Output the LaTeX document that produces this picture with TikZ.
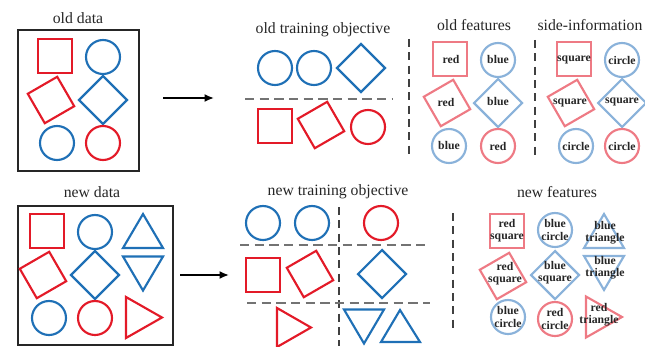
\documentclass[tikz,border=0pt]{standalone}
\usepackage{fontspec}
\setmainfont{Liberation Serif}
\usetikzlibrary{arrows.meta}
\definecolor{cred}{RGB}{227,26,40}
\definecolor{cblue}{RGB}{31,112,182}
\definecolor{lred}{RGB}{238,122,132}
\definecolor{lblue}{RGB}{138,178,218}
\newcommand\Sqr[4]{\draw[#1,shift={(#2,#3)},rotate=#4] (-17,-17) rectangle (17,17);}
\newcommand\Dia[3]{\draw[#1,shift={(#2,#3)}] (-24,0)--(0,-24)--(24,0)--(0,24)--cycle;}
\newcommand\Cir[3]{\draw[#1] (#2,#3) circle[radius=17];}
\newcommand\TriU[3]{\draw[#1,shift={(#2,#3)}] (0,-17)--(20,17)--(-20,17)--cycle;}
\newcommand\TriD[3]{\draw[#1,shift={(#2,#3)}] (-20,-17)--(20,-17)--(0,17)--cycle;}
\newcommand\TriR[3]{\draw[#1,shift={(#2,#3)}] (-18,-20.5)--(18,0)--(-18,20.5)--cycle;}
\begin{document}
\begin{tikzpicture}[x=0.75pt,y=-0.75pt,
  R/.style={draw=cred,line width=1.6pt},
  B/.style={draw=cblue,line width=1.6pt},
  LR/.style={draw=lred,line width=1.6pt},
  LB/.style={draw=lblue,line width=1.6pt},
  title/.style={font=\fontsize{11.8}{14}\selectfont,text=black!85},
  feat/.style={font=\fontsize{8.8}{9.2}\selectfont\bfseries,text=black!85,align=center,inner sep=0pt},
  frame/.style={draw=black!85,line width=0.8pt},
  sep/.style={draw=black!75,line width=0.8pt,dash pattern=on 6pt off 4pt},
  hsep/.style={draw=black!55,line width=0.8pt,dash pattern=on 7pt off 4pt},
  flow/.style={draw=black,line width=1.4pt,-{Latex[length=7pt,width=6pt]}}]
\useasboundingbox (0,0) rectangle (645,346);
% ---------------- old data ----------------
\node[title] (tod) at (78,18) {old data};
\draw[frame] (18,30) rectangle (139,171);
\Sqr{R}{55}{56}{0}
\Cir{B}{103}{57}
\Sqr{R}{51}{100}{30}
\Dia{B}{103}{100}
\Cir{B}{57}{143}
\Cir{R}{103}{143}
\coordinate (a1s) at (163,98);
\coordinate (a1e) at (214,98);
\draw[flow] (a1s) -- (a1e);
% old training objective
\node[title] (tot) at (323,30) {old training objective};
\Cir{B}{275}{68}
\Cir{B}{314}{68}
\Dia{B}{361}{68}
\coordinate (h0a) at (245,99);
\coordinate (h0b) at (392,99);
\draw[hsep] (h0a) -- (h0b);
\Sqr{R}{275}{126}{0}
\Sqr{R}{321}{125}{30}
\Cir{R}{368}{127}
\coordinate (v1a) at (409,39);
\coordinate (v1b) at (409,158);
\draw[sep] (v1a) -- (v1b);
% old features
\node[title] (tof) at (474,25) {old features};
\Sqr{LR}{450}{59}{0}
\Cir{LB}{498}{60}
\Sqr{LR}{447}{103}{30}
\Dia{LB}{498}{103}
\Cir{LB}{449}{146}
\Cir{LR}{498}{146}
\node[feat] (f1) at (451,59) {red};
\node[feat] (f2) at (498,60) {blue};
\node[feat] (f3) at (446,102) {red};
\node[feat] (f4) at (498,102) {blue};
\node[feat] (f5) at (449,146) {blue};
\node[feat] (f6) at (498,146) {red};
\coordinate (v2a) at (535,40);
\coordinate (v2b) at (535,158);
\draw[sep] (v2a) -- (v2b);
% side-information
\node[title] (tsi) at (590,25) {side-information};
\Sqr{LR}{574}{59}{0}
\Cir{LB}{622}{60}
\Sqr{LR}{571}{103}{30}
\Dia{LB}{622}{103}
\Cir{LB}{576}{146}
\Cir{LR}{622}{146}
\node[feat] (s1) at (574,60) {square};
\node[feat] (s2) at (622,60) {circle};
\node[feat] (s3) at (570,103) {square};
\node[feat] (s4) at (622,102) {square};
\node[feat] (s5) at (576,146) {circle};
\node[feat] (s6) at (622,146) {circle};
% ---------------- new data ----------------
\node[title] (tnd) at (92,192) {new data};
\draw[frame] (18,206) rectangle (173,345);
\Sqr{R}{47}{231}{0}
\Cir{B}{95}{232}
\TriU{B}{143}{231}
\Sqr{R}{43}{275}{30}
\Dia{B}{95}{275}
\TriD{B}{143}{273.5}
\Cir{B}{49}{318}
\Cir{R}{95}{318}
\TriR{R}{144}{317.5}
\coordinate (a2s) at (180,275);
\coordinate (a2e) at (229,275);
\draw[flow] (a2s) -- (a2e);
% new training objective
\node[title] (tnt) at (338,192) {new training objective};
\Cir{B}{263}{223}
\Cir{B}{312}{223}
\Cir{R}{381}{223}
\coordinate (h1a) at (240,245);
\coordinate (h1b) at (430,245);
\draw[hsep] (h1a) -- (h1b);
\coordinate (vna) at (339,207);
\coordinate (vnb) at (339,346);
\draw[sep] (vna) -- (vnb);
\Sqr{R}{263}{275}{0}
\Sqr{R}{310}{274}{30}
\Dia{B}{382}{274}
\coordinate (h2a) at (247,303);
\coordinate (h2b) at (430,303);
\draw[hsep] (h2a) -- (h2b);
\draw[R] (277,308)--(311,327.5)--(277,347)--cycle;
\TriD{B}{364}{326.5}
\draw[B] (381,342)--(400,310)--(420,342)--cycle;
% new features
\node[title] (tnf) at (557,192) {new features};
\coordinate (v3a) at (453,213);
\coordinate (v3b) at (453,332);
\draw[sep] (v3a) -- (v3b);
\Sqr{LR}{507}{231}{0}
\Cir{LB}{555}{230}
\TriU{LB}{604}{231}
\Sqr{LR}{503}{276}{30}
\Dia{LB}{555}{275}
\TriD{LB}{604}{273}
\Cir{LB}{508}{317}
\Cir{LR}{555}{319}
\TriR{LR}{604}{317}
\node[feat] (n1) at (507,231) {red\\square};
\node[feat] (n2) at (555,230) {blue\\circle};
\node[feat] (n3) at (605,233) {blue\\triangle};
\node[feat] (n4) at (505,274) {red\\square};
\node[feat] (n5) at (555,273) {blue\\square};
\node[feat] (n6) at (605,268) {blue\\triangle};
\node[feat] (n7) at (508,317) {blue\\circle};
\node[feat] (n8) at (555,319) {red\\circle};
\node[feat] (n9) at (599,315) {red\\triangle};
\end{tikzpicture}
\end{document}
